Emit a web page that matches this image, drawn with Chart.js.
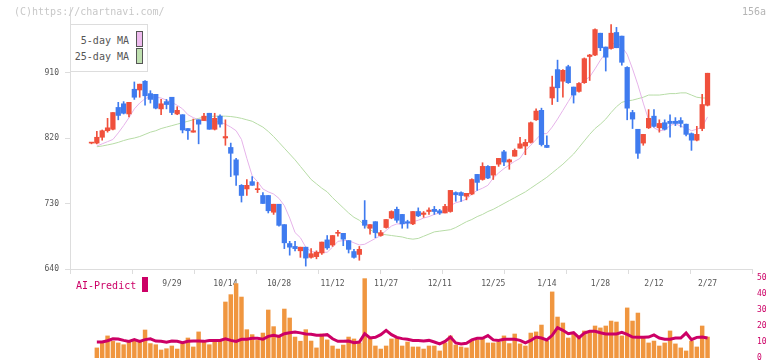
<!DOCTYPE html>
<html>
<head>
<meta charset="utf-8">
<script src="https://cdn.jsdelivr.net/npm/chart.js@4.4.1/dist/chart.umd.min.js"></script>
<style>
  body { margin: 0; background: #fff; }
  #wrap { position: relative; width: 772px; height: 361px; overflow: hidden; font-family: "DejaVu Sans Mono", monospace; }
  canvas { position: absolute; left: 0; }
  #price { top: 1px; }
  #vol { top: 270px; }
  .txt { position: absolute; white-space: nowrap; font-size: 10px; line-height: 12px; }
  #legend { position: absolute; left: 70px; top: 24px; width: 78px; height: 48px; box-sizing: border-box; border: 1px solid #ddd; background: #fff; }
  .sw { position: absolute; width: 7px; height: 16px; box-sizing: border-box; border: 1px solid #555; }
</style>
</head>
<body>
<div id="wrap">
  <canvas id="price" width="772" height="300"></canvas>
  <canvas id="vol" width="772" height="91"></canvas>
  <div class="txt" style="left:14px; top:6px; color:#c8c8c8;">(C)https://chartnavi.com/</div>
  <div class="txt" style="right:6px; top:6px; color:#b4b4b4;">156a</div>
  <div id="legend">
    <div class="txt" style="left:0; width:58px; text-align:right; top:10px; color:#555;">5-day MA</div>
    <div class="txt" style="left:0; width:58px; text-align:right; top:26px; color:#555;">25-day MA</div>
    <div class="sw" style="left:65px; top:6px; background:#eebbee;"></div>
    <div class="sw" style="left:65px; top:23px; background:#bfe0b0;"></div>
  </div>
  <div class="txt" style="left:76px; top:280px; color:#cc0066;">AI-Predict</div>
  <div style="position:absolute; left:142px; top:277px; width:6px; height:15px; background:#cc0066;"></div>
</div>
<script>
// trading days, one per candle
const dates = [
  '9/4','9/5','9/8','9/9','9/10','9/11','9/12','9/16','9/17','9/18',
  '9/19','9/22','9/24','9/25','9/26','9/29','9/30','10/1','10/2','10/3',
  '10/6','10/7','10/8','10/9','10/10','10/14','10/15','10/16','10/17','10/20',
  '10/21','10/22','10/23','10/24','10/27','10/28','10/29','10/30','10/31','11/4',
  '11/5','11/6','11/7','11/10','11/11','11/12','11/13','11/14','11/17','11/18',
  '11/19','11/20','11/21','11/25','11/26','11/27','11/28','12/1','12/2','12/3',
  '12/4','12/5','12/8','12/9','12/10','12/11','12/12','12/15','12/16','12/17',
  '12/18','12/19','12/22','12/23','12/24','12/25','12/26','12/29','12/30','1/5',
  '1/6','1/7','1/8','1/9','1/13','1/14','1/15','1/16','1/19','1/20',
  '1/21','1/22','1/23','1/26','1/27','1/28','1/29','1/30','2/2','2/3',
  '2/4','2/5','2/6','2/9','2/10','2/12','2/13','2/16','2/17','2/18',
  '2/19','2/20','2/24','2/25','2/26','2/27'
];
const tickLabels = ['9/29','10/14','10/28','11/12','11/27','12/11','12/25','1/14','1/28','2/12','2/27'];
const priceTicks = [640, 730, 820, 910];
const volTicks = [0, 10, 20, 30, 40, 50];

const openP = [
  813,813,821,830,832,862,867,853,887,886, 898,881,880,860,870,876,853,852,833,828,
  845,844,854,832,850,820,807,790,755,750, 760,749,741,741,718,729,701,675,671,665,
  670,656,657,662,680,673,689,689,679,664, 660,707,696,705,686,697,710,722,715,705,
  702,719,715,719,722,720,717,719,745,745, 740,743,770,763,781,769,784,801,787,795,
  806,809,814,845,858,810,875,914,898,918, 890,884,896,932,934,964,945,943,965,960,
  917,855,832,813,834,850,834,841,843,843, 844,839,826,817,833,865
];
const highP = [
  814,829,831,847,855,869,870,869,897,894, 899,885,880,873,873,876,863,852,833,846,
  845,854,854,854,852,845,813,792,756,763, 767,759,745,741,729,729,701,678,678,670,
  670,668,665,677,686,686,693,689,679,667, 671,734,701,705,693,708,720,725,715,707,
  719,724,719,724,726,722,729,748,746,746, 744,764,770,786,782,781,792,803,791,805,
  821,818,842,860,861,823,905,927,914,920, 890,896,930,935,970,964,945,976,972,960,
  918,858,832,825,859,859,845,845,852,848, 848,839,827,836,880,909
];
const lowP = [
  812,812,817,828,831,845,853,849,873,876, 865,868,860,852,860,852,852,827,818,828,
  812,844,832,831,835,810,767,755,732,741, 755,745,730,717,715,699,668,659,665,656,
  644,655,654,660,667,671,685,672,662,655, 652,696,688,683,685,696,709,704,696,696,
  701,712,711,715,715,715,717,718,733,733, 735,742,748,762,764,763,781,782,777,795,
  806,797,813,844,809,807,866,870,876,895, 868,883,895,899,933,940,912,942,944,920,
  845,833,792,810,833,835,828,831,821,837, 835,823,803,816,830,864
];
const closeP = [
  814,821,830,834,855,851,854,869,876,894, 878,873,861,867,866,855,858,831,830,830,
  839,850,832,847,839,822,799,769,741,755, 755,750,730,720,729,700,676,670,668,670,
  655,661,663,677,669,686,690,681,667,656, 667,700,701,690,690,708,719,707,702,703,
  719,713,717,721,719,717,726,748,742,741, 744,763,759,781,765,781,792,787,790,803,
  812,814,841,857,811,807,890,889,913,896, 879,895,929,934,969,944,931,964,944,924,
  861,846,799,825,847,836,840,832,840,840, 840,825,817,825,866,909
];
const ma5 = [
  null,
  809,812,815,818,827,837,848,860,868,874, 877,876,875,872,869,865,860,852,848,845,
  844,843,843,842,839,835,830,818,792,768, 760,750,746,743,737,727,710,690,683,670,
  664,663,663,663,670,678,679,679,676,673, 674,678,682,686,693,699,702,702,703,705,
  707,710,712,715,717,718,727,731,733,736, 743,748,751,755,765,772,778,783,788,792,
  803,810,818,826,826,835,846,858,870,882, 894,899,904,915,927,937,948,952,945,935,
  915,893,868,845,834,830,831,837,840,836, 834,830,832,835,849
];
const ma25 = [
  null,
  808,809,810.5,812,814,816.5,818.5,820,822,825, 828,830,833,835,837,839,841,843,845,847,
  848.5,849.5,850,850,850,849.5,848.5,847,845,843, 839,835,829,822,814,806,798,790,781,772,
  763,757,751,746,738,731,724,717,711,707, 700,694,690,688,687,686,685,684,682,681,
  682,685,688,691,692,693,694,697,701,705, 708,712,715,719,722,726,730,734,738,742,
  746,751,756,761,766,772,778,784,791,798, 807,816,825,833,839,846,855,863,869,871,
  872,874,876,879,879,879,880,881,881,882, 882,879,876,875,875
];
const volume = [
  null,
  6.3,9.6,13.8,10.4,9.4,8.3,10,11,10,17.5, 9,8.3,5,5.8,7.5,5.6,9,12.5,6.9,16.3,
  10,8.3,10.8,11,35,39.6,46.5,38.1,17.7,14.6, 11,15.6,30,19.6,13.1,30.6,25,13.1,10.5,17.7,
  10.6,6.3,15,11.3,7.5,5.6,8.1,13.1,11.9,9.4, 49.6,12.5,7.5,5.6,7.5,11.9,12.5,7.5,10,6.9,
  6.9,5.6,7.5,7.5,4.4,9.4,13.8,8.1,6.9,6.3, 10.6,11.3,11.9,9.4,9.4,10,13.8,9,15,8.8,
  7.5,15.6,16.3,20.6,10.6,41.3,25.6,21.9,12.5,15, 13.8,16.9,16.3,20,18.8,20,23.1,22.5,13.8,31.3,
  23.1,28.1,12.5,9.4,10.6,7.5,9.4,16.9,8.8,6.3, 4.4,10.6,6.9,20,13.1
];
const aiPredict = [
  null,
  10,10,10.8,12,11.9,11,10.4,11.5,10.4,11.5, 12,10.6,10.4,9.8,10.6,10.4,9.6,10.4,10.6,10.6,
  10.4,11,11,11,12,11,10.4,11.7,11.7,12.3, 12.3,11.7,13.5,14.2,13.5,15.2,15.8,16.3,15.7,15,
  14.8,14.2,14.2,14.6,12,10.4,10.4,10.6,9.6,10, 15.2,12.5,12.9,14.6,17.3,14.6,12.9,12.1,11.7,11,
  11,10.6,11,10,8.8,10.4,13.1,9.4,8.8,9.2, 11.3,12.3,12.3,14,11.3,11,11.7,11.7,11.7,11,
  9.4,11,13.1,12.5,11.3,14.2,19,17.3,15.2,15.8, 12.7,15.6,16.7,16.7,15.8,15,15,15,16,14.8,
  13.1,12.9,12.9,13.1,14.4,12.5,11.7,11.7,12.5,12.5, 15.6,11.5,12.9,13.1,12.5
];

const X_MIN = -4.01, X_MAX = 123.3;
const UP = '#f0503c', DOWN = '#3f7bef';
const tickFont = { family: 'DejaVu Sans Mono', size: 8 };

const candleColors = closeP.map((c, i) => c >= openP[i] ? UP : DOWN);
const bodies = openP.map((o, i) => ({ x: i, y: [o, closeP[i]] }));
const wicks = lowP.map((l, i) => ({ x: i, y: [l, highP[i]] }));
const toPts = arr => arr.map((v, i) => ({ x: i, y: v })).filter(p => p.y !== null);

new Chart(document.getElementById('price'), {
  data: {
    datasets: [
      { type: 'bar', data: bodies, backgroundColor: candleColors, barThickness: 4.6, grouped: false, minBarLength: 1, order: 0 },
      { type: 'bar', data: wicks, backgroundColor: candleColors, barThickness: 1, grouped: false, order: 1 },
      { type: 'line', data: toPts(ma5), borderColor: '#e6b3ea', borderWidth: 1, pointRadius: 0, order: 2 },
      { type: 'line', data: toPts(ma25), borderColor: '#b7dca6', borderWidth: 1, pointRadius: 0, order: 3 }
    ]
  },
  options: {
    responsive: false,
    animation: false,
    layout: { padding: { left: 0, right: 20, top: 6, bottom: 0 } },
    plugins: { legend: { display: false }, tooltip: { enabled: false } },
    scales: {
      x: {
        type: 'linear', min: X_MIN, max: X_MAX, offset: false,
        afterBuildTicks: s => {
          const t = [];
          for (let k = 0; k <= 11; k++) t.push({ value: X_MIN + k * (X_MAX - X_MIN) / 11 });
          dates.forEach((d, i) => { if (tickLabels.includes(d)) t.push({ value: i }); });
          s.ticks = t;
        },
        afterFit: s => { s.height = 32; s.paddingLeft = 0; s.paddingRight = 0; },
        ticks: {
          autoSkip: false, maxRotation: 0, padding: 5, font: tickFont, color: '#555',
          callback: v => (Number.isInteger(v) && tickLabels.includes(dates[v])) ? dates[v] : ''
        },
        grid: {
          offset: false, drawOnChartArea: false, tickLength: 5,
          tickColor: c => (c.tick && c.tick.label) ? 'rgba(0,0,0,0)' : '#ddd'
        },
        border: { color: '#ddd' }
      },
      y: {
        min: 640, max: 1000,
        afterBuildTicks: s => { s.ticks = priceTicks.map(v => ({ value: v })); },
        afterFit: s => { s.width = 70; s.paddingTop = 0; s.paddingBottom = 0; },
        ticks: { font: tickFont, color: '#555', padding: 6 },
        grid: { drawOnChartArea: false, tickLength: 5, tickColor: '#ddd' },
        border: { color: '#ddd' }
      }
    }
  }
});

new Chart(document.getElementById('vol'), {
  data: {
    datasets: [
      { type: 'line', data: toPts(aiPredict), borderColor: '#cc0066', borderWidth: 3, pointRadius: 0, order: 0 },
      { type: 'bar', data: toPts(volume), backgroundColor: '#f0963f', barThickness: 3.8, order: 1 }
    ]
  },
  options: {
    responsive: false,
    animation: false,
    layout: { padding: { left: 70, right: 0, top: 8, bottom: 3 } },
    plugins: { legend: { display: false }, tooltip: { enabled: false } },
    scales: {
      x: { type: 'linear', min: X_MIN, max: X_MAX, offset: false, display: false },
      y: {
        position: 'right', min: 0, max: 50,
        afterBuildTicks: s => { s.ticks = volTicks.map(v => ({ value: v })); },
        afterFit: s => { s.width = 20; s.paddingTop = 0; s.paddingBottom = 0; },
        ticks: { font: tickFont, color: '#cc0066', padding: 5 },
        grid: { display: false, drawTicks: false },
        border: { display: false }
      }
    }
  }
});
</script>
</body>
</html>
